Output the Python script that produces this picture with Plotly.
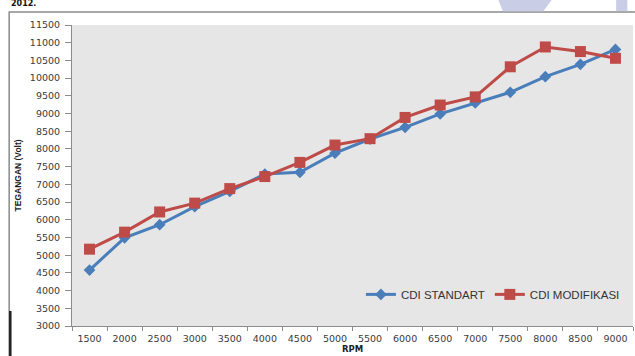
import plotly.graph_objects as go

# RPM categories and measured output voltage for both CDI units
rpm = ["1500", "2000", "2500", "3000", "3500", "4000", "4500", "5000",
       "5500", "6000", "6500", "7000", "7500", "8000", "8500", "9000"]
cdi_standart = [4580, 5490, 5860, 6370, 6800, 7290, 7340, 7880,
                8280, 8610, 8990, 9300, 9600, 10040, 10390, 10810]
cdi_modifikasi = [5170, 5650, 6220, 6470, 6880, 7220, 7620, 8110,
                  8290, 8890, 9240, 9470, 10320, 10880, 10750, 10560]
y_ticks = list(range(3000, 11501, 500))

tick_font = dict(family="DejaVu Sans", size=9.5, color="#3a3a3a")

fig = go.Figure()
fig.add_trace(go.Scatter(
    x=rpm, y=cdi_standart, name="CDI STANDART", mode="lines+markers",
    line=dict(color="#4a7ebb", width=3),
    marker=dict(symbol="diamond", size=9, color="#4a7ebb"),
))
fig.add_trace(go.Scatter(
    x=rpm, y=cdi_modifikasi, name="CDI MODIFIKASI", mode="lines+markers",
    line=dict(color="#be4b48", width=3),
    marker=dict(symbol="square", size=11, color="#be4b48"),
))

fig.update_layout(
    width=635, height=356,
    margin=dict(l=72, r=2, t=25, b=30),
    paper_bgcolor="white",
    plot_bgcolor="#e6e6e6",
    showlegend=True,
    legend=dict(
        orientation="h", x=0.515, y=0.105, xanchor="left", yanchor="middle",
        bgcolor="rgba(0,0,0,0)", font=dict(family="Liberation Sans", size=11.5, color="#333"),
        itemwidth=30, tracegroupgap=0,
    ),
    xaxis=dict(
        type="category", showgrid=False, zeroline=False, automargin=False,
        showline=True, linecolor="#8c8c8c", linewidth=1,
        ticks="outside", ticklen=4, tickcolor="#8c8c8c", tickson="boundaries",
        tickfont=tick_font, ticklabelstandoff=4,
        range=[-0.5, 15.5],
    ),
    yaxis=dict(
        range=[3000, 11500], tickvals=y_ticks, tickformat="d", showgrid=False, zeroline=False,
        automargin=False,
        showline=True, linecolor="#8c8c8c", linewidth=1,
        ticks="outside", ticklen=6, tickcolor="#8c8c8c",
        tickfont=tick_font, ticklabelstandoff=3,
    ),
    shapes=[
        # outer chart frame
        dict(type="rect", xref="paper", yref="paper", x0=-0.112, x1=1.02, y0=-0.2, y1=1.043,
             line=dict(color="#8a8a8a", width=1.5), fillcolor="rgba(0,0,0,0)", layer="below"),
        # page decorations along the top strip
        dict(type="path", xref="paper", yref="paper",
             path="M 0.76,1.083 L 0.855,1.083 L 0.84,1.046 L 0.768,1.046 Z",
             fillcolor="#c9cde6", line=dict(width=0), layer="below"),
        dict(type="rect", xref="paper", yref="paper", x0=0.97, x1=0.99, y0=1.046, y1=1.083,
             fillcolor="#c9cde6", line=dict(width=0), layer="below"),
        # dark rule at lower left
        dict(type="line", xref="paper", yref="paper", x0=-0.11, x1=-0.11, y0=0.05, y1=-0.1,
             line=dict(color="#222", width=2.5)),
    ],
    annotations=[
        # axis titles
        dict(text="<b>TEGANGAN (Volt)</b>", xref="paper", yref="paper", x=-0.0963, y=0.5,
             textangle=-90, showarrow=False, xanchor="center", yanchor="middle",
             font=dict(family="Liberation Sans", size=8.5, color="#222")),
        dict(text="<b>RPM</b>", xref="paper", yref="paper", x=0.5, y=-0.078,
             showarrow=False, xanchor="center", yanchor="middle",
             font=dict(family="DejaVu Sans", size=8.5, color="#222")),
        dict(text="<b>2012.</b>", xref="paper", yref="paper", x=-0.113, y=1.046,
             xanchor="left", yanchor="bottom", showarrow=False, yshift=1,
             font=dict(family="DejaVu Sans", size=8, color="#111")),
    ],
)

fig.write_html("out.html")
